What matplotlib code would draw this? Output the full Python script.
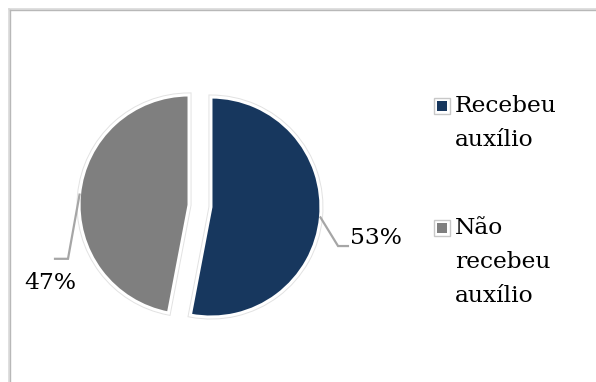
import numpy as np
import matplotlib
matplotlib.use("Agg")
import matplotlib.pyplot as plt
import matplotlib.patheffects as pe
from matplotlib.patches import Rectangle

categories = ["Recebeu auxílio", "Não recebeu auxílio"]
legend_labels = ["Recebeu\nauxílio", "Não\nrecebeu\nauxílio"]
values = [53, 47]
colors = ["#17375E", "#7F7F7F"]

W, H = 596, 382
fig = plt.figure(figsize=(W / 100, H / 100), dpi=100)
plt.rcParams['font.family'] = ['DejaVu Serif']

# axes spanning the whole figure; 1 data unit = 110 px, pie centre at (200, 206) px
ax = fig.add_axes([0, 0, 1, 1])
R = 110.0
cx, cy = 200.0, H - 206.0
wedges, _ = ax.pie(values, colors=colors, startangle=90, counterclock=False,
                   explode=[0.1, 0.1], radius=1,
                   wedgeprops=dict(edgecolor="white", linewidth=2.2,
                                   path_effects=[pe.Stroke(linewidth=3.6, foreground="#e2e2e2"),
                                                 pe.Normal()]))
ax.set_aspect('auto')
ax.set_xlim(-cx / R, (W - cx) / R)
ax.set_ylim(-cy / R, (H - cy) / R)
ax.axis('off')

fs = 16.8
line_col = "#A6A6A6"
# label layout: (elbow, end, text pos, ha)
layouts = [
    ((1.255, -0.364), (1.345, -0.364), (1.36, -0.29), 'left'),
    ((-1.20, -0.48), (-1.318, -0.48), (-1.36, -0.70), 'center'),
]
for w, v, (elb, end, tpos, ha) in zip(wedges, values, layouts):
    mid = np.deg2rad((w.theta1 + w.theta2) / 2)
    sx = w.center[0] + w.r * np.cos(mid)
    sy = w.center[1] + w.r * np.sin(mid)
    ax.plot([sx, elb[0], end[0]], [sy, elb[1], end[1]], color=line_col, lw=1.6,
            solid_joinstyle='miter', zorder=1)
    ax.text(tpos[0], tpos[1], f"{v}%", ha=ha, va='center', fontsize=fs, color="#000000")

# legend (manual, square aligned with first line)
def fx(x):
    return x / W
def fy(y):
    return 1 - y / H

leg_tops = [98, 220]
for lab, col, top in zip(legend_labels, colors, leg_tops):
    fig.add_artist(Rectangle((fx(434), fy(top + 16)), 16 / W, 16 / H, transform=fig.transFigure,
                             facecolor="white", edgecolor="#c8c8c8", lw=1.0))
    fig.add_artist(Rectangle((fx(437), fy(top + 13)), 10 / W, 10 / H, transform=fig.transFigure,
                             facecolor=col, edgecolor="none"))
    fig.text(fx(455), fy(top - 3), lab, ha='left', va='top', fontsize=fs,
             linespacing=1.72, color="#000000")

# chart frame
fig.add_artist(plt.Line2D([fx(8.5), fx(8.5)], [fy(8.5), 0], transform=fig.transFigure,
                          color="#d9d9d9", lw=1.2))
fig.add_artist(plt.Line2D([fx(8.5), 1], [fy(8.5), fy(8.5)], transform=fig.transFigure,
                          color="#d9d9d9", lw=1.2))
fig.add_artist(plt.Line2D([fx(10), fx(10)], [fy(10), 0], transform=fig.transFigure,
                          color="#b8b8b8", lw=1.0))
fig.add_artist(plt.Line2D([fx(10), 1], [fy(10), fy(10)], transform=fig.transFigure,
                          color="#b8b8b8", lw=1.0))

fig.savefig("out.png", dpi=100, facecolor="white")
